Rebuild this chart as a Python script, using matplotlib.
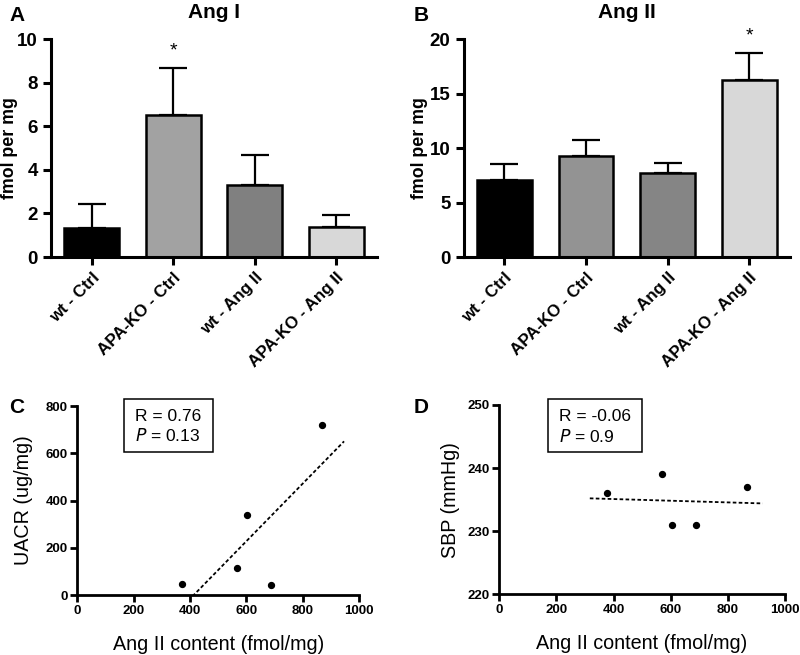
import numpy as np
import matplotlib
matplotlib.use("Agg")
import matplotlib.pyplot as plt
from matplotlib.patches import Rectangle

plt.rcParams['font.family'] = ['Liberation Sans', 'DejaVu Sans']

groups = ["wt - Ctrl", "APA-KO - Ctrl", "wt - Ang II", "APA-KO - Ang II"]
ang1_mean = [1.33, 6.5, 3.3, 1.38]
ang1_sem = [1.1, 2.16, 1.37, 0.57]
ang2_mean = [7.1, 9.25, 7.7, 16.25]
ang2_sem = [1.45, 1.5, 0.92, 2.45]
colors_a = ["#000000", "#a2a2a2", "#808080", "#d8d8d8"]
colors_b = ["#000000", "#939393", "#858585", "#d8d8d8"]

# correlation panels
c_x = [372, 566, 603, 687, 867]
c_y = [45, 113, 337, 42, 720]
d_x = [376, 568, 605, 689, 868]
d_y = [236, 239, 231, 231, 237]

fig = plt.figure(figsize=(8, 6.55), dpi=100)

def bar_panel(rect, mean, sem, cols, title, ymax, yticks, star_idx, star_y, labx):
    ax = fig.add_axes(rect)
    x = np.arange(len(mean))
    ax.bar(x, mean, width=0.67, color=cols, edgecolor="black", linewidth=1.8, zorder=2)
    ax.errorbar(x, mean, yerr=[np.zeros(len(sem)), sem], fmt="none", ecolor="black",
                elinewidth=1.6, capsize=10, capthick=1.6, zorder=1)
    ax.set_xlim(-0.5, 3.5)
    ax.set_ylim(0, ymax)
    ax.set_yticks(yticks)
    ax.set_xticks(x)
    ax.set_xticklabels(groups, rotation=45, ha="right", rotation_mode="anchor",
                       fontsize=12.2, fontweight="bold")
    for lab in ax.get_yticklabels():
        lab.set_fontweight("bold")
        lab.set_fontsize(13.5)
    ax.spines[["top", "right"]].set_visible(False)
    ax.spines[["left", "bottom"]].set_linewidth(2.2)
    ax.tick_params(width=2.2, length=6)
    ax.set_ylabel("fmol per mg", fontsize=12.8, fontweight="bold")
    ax.yaxis.set_label_coords(labx, 0.5)
    ax.set_title(title, fontsize=15, fontweight="bold", pad=15)
    ax.text(star_idx, star_y, "*", ha="center", va="center", fontsize=14)
    return ax

axA = bar_panel([0.06375, 0.6076, 0.4075, 0.3328], ang1_mean, ang1_sem, colors_a,
                "Ang I", 10, [0, 2, 4, 6, 8, 10], 1, 9.45, -0.1)
axB = bar_panel([0.5796, 0.6076, 0.408, 0.3328], ang2_mean, ang2_sem, colors_b,
                "Ang II", 20, [0, 5, 10, 15, 20], 3, 20.3, -0.11)

def scatter_panel(rect, xs, ys, ylim, yticks, ylabel, rtxt, ptxt, xline, box, labx):
    ax = fig.add_axes(rect)
    ax.scatter(xs, ys, s=18, color="black", zorder=3)
    k, b = np.polyfit(xs, ys, 1)
    lx = np.array(xline)
    ax.plot(lx, k * lx + b, ls=(0, (2, 1.3)), color="black", lw=1.3)
    ax.set_xlim(0, 1000)
    ax.set_ylim(*ylim)
    ax.set_xticks([0, 200, 400, 600, 800, 1000])
    ax.set_yticks(yticks)
    for lab in ax.get_xticklabels() + ax.get_yticklabels():
        lab.set_fontweight("bold")
        lab.set_fontsize(9.5)
    ax.spines[["top", "right"]].set_visible(False)
    ax.spines[["left", "bottom"]].set_linewidth(2)
    ax.tick_params(width=2, length=5, pad=2)
    ax.set_xlabel("Ang II content (fmol/mg)", fontsize=14.2, labelpad=13)
    ax.set_ylabel(ylabel, fontsize=14.2)
    ax.yaxis.set_label_coords(labx, 0.5)
    x0, y0, x1, y1 = box
    ax.add_patch(Rectangle((x0, y0), x1 - x0, y1 - y0, transform=ax.transAxes,
                           fc="white", ec="black", lw=1.1, clip_on=False, zorder=4))
    ax.text(x0 + 0.04, y1 - 0.09, rtxt, transform=ax.transAxes, ha="left",
            va="center", fontsize=12.5, zorder=5)
    ax.text(x0 + 0.04, y1 - 0.195, r"$\it{P}$" + " = " + ptxt, transform=ax.transAxes,
            ha="left", va="center", fontsize=12.5, zorder=5)
    return ax

axC = scatter_panel([0.0966, 0.0916, 0.3525, 0.2885], c_x, c_y, (0, 800),
                    [0, 200, 400, 600, 800], "UACR (ug/mg)", "R = 0.76", "0.13",
                    [320, 946], (0.166, 0.757, 0.481, 1.037), -0.157)
axD = scatter_panel([0.6241, 0.0927, 0.357, 0.289], d_x, d_y, (220, 250),
                    [220, 230, 240, 250], "SBP (mmHg)", "R = -0.06", "0.9",
                    [317, 922], (0.169, 0.752, 0.50, 1.03), -0.1375)

fig.text(0.012, 0.977, "A", fontsize=15, fontweight="bold", va="center")
fig.text(0.517, 0.977, "B", fontsize=15, fontweight="bold", va="center")
fig.text(0.012, 0.378, "C", fontsize=15, fontweight="bold", va="center")
fig.text(0.517, 0.378, "D", fontsize=15, fontweight="bold", va="center")

fig.savefig("out.png", dpi=100)
